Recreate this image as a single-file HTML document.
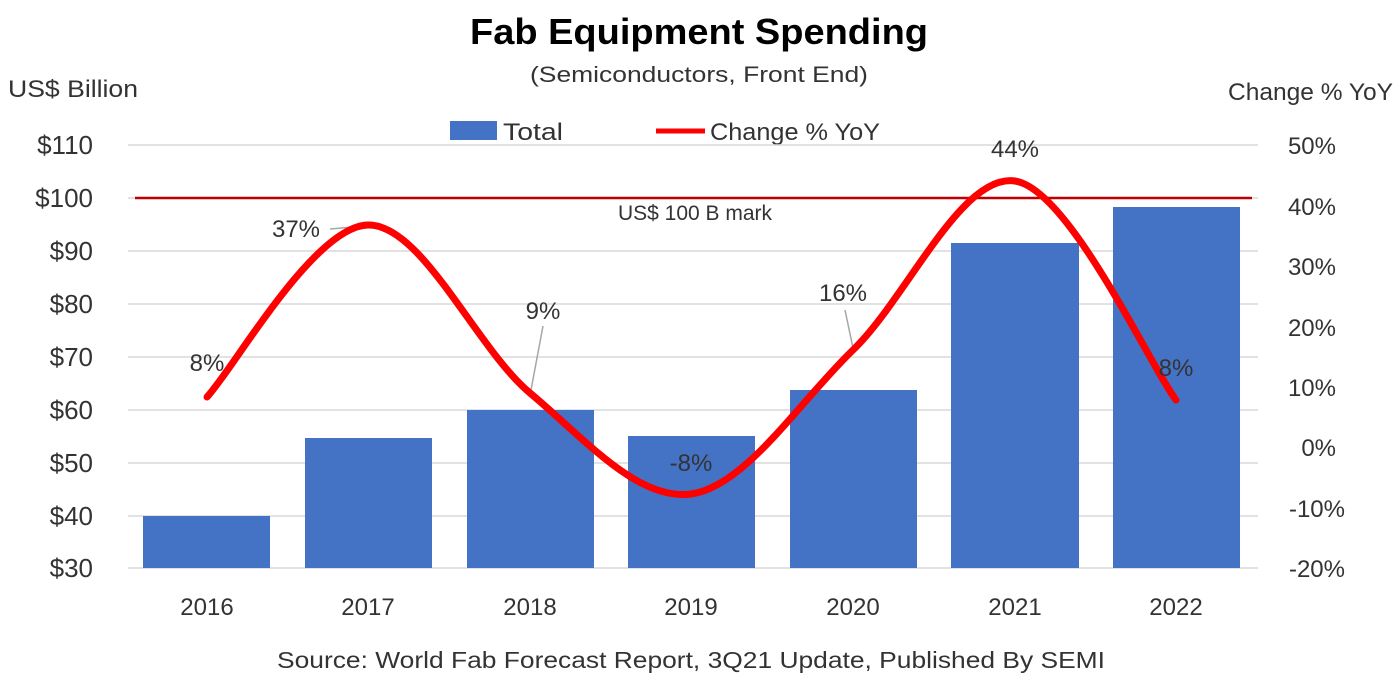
<!DOCTYPE html>
<html><head><meta charset="utf-8"><style>
body{margin:0;background:#fff;}
svg{display:block;font-family:"Liberation Sans",sans-serif;}
</style></head><body>
<svg width="1393" height="678" viewBox="0 0 1393 678">
<rect width="1393" height="678" fill="#fff"/>
<text x="470" y="44" textLength="458" lengthAdjust="spacingAndGlyphs" font-size="36" font-weight="bold" fill="#000">Fab Equipment Spending</text>
<text x="530" y="82" textLength="338" lengthAdjust="spacingAndGlyphs" font-size="22" fill="#333">(Semiconductors, Front End)</text>
<text x="8" y="97" textLength="130" lengthAdjust="spacingAndGlyphs" font-size="24" fill="#333">US$ Billion</text>
<text x="1228" y="100" textLength="165" lengthAdjust="spacingAndGlyphs" font-size="24" fill="#333">Change % YoY</text>
<rect x="450" y="121" width="47" height="19" fill="#4472c4"/>
<text x="503" y="140" textLength="60" lengthAdjust="spacingAndGlyphs" font-size="24" fill="#333">Total</text>
<line x1="656" y1="131" x2="705" y2="131" stroke="#ff0000" stroke-width="5"/>
<text x="710" y="140" textLength="170" lengthAdjust="spacingAndGlyphs" font-size="24" fill="#333">Change % YoY</text>
<g stroke="#d9d9d9" stroke-width="1.5">
<line x1="128" y1="145" x2="1258" y2="145"/><line x1="128" y1="198" x2="1258" y2="198"/>
<line x1="128" y1="251" x2="1258" y2="251"/><line x1="128" y1="304" x2="1258" y2="304"/>
<line x1="128" y1="357" x2="1258" y2="357"/><line x1="128" y1="410" x2="1258" y2="410"/>
<line x1="128" y1="463" x2="1258" y2="463"/><line x1="128" y1="516" x2="1258" y2="516"/>
<line x1="128" y1="568" x2="1258" y2="568"/>
</g>
<g font-size="26" fill="#333" text-anchor="end">
<text x="93" y="154">$110</text><text x="93" y="207">$100</text><text x="93" y="260">$90</text>
<text x="93" y="313">$80</text><text x="93" y="366">$70</text><text x="93" y="419">$60</text>
<text x="93" y="472">$50</text><text x="93" y="525">$40</text><text x="93" y="577">$30</text>
</g>
<g font-size="24" fill="#333" text-anchor="end">
<text x="1336" y="154">50%</text><text x="1336" y="215">40%</text><text x="1336" y="275">30%</text>
<text x="1336" y="336">20%</text><text x="1336" y="396">10%</text><text x="1336" y="456">0%</text>
<text x="1345" y="517">-10%</text><text x="1345" y="577">-20%</text>
</g>
<g fill="#4472c4">
<rect x="143" y="516" width="127" height="52"/>
<rect x="305" y="438" width="127" height="130"/>
<rect x="467" y="410" width="127" height="158"/>
<rect x="628" y="436" width="127" height="132"/>
<rect x="790" y="390" width="127" height="178"/>
<rect x="951" y="243" width="128" height="325"/>
<rect x="1113" y="207" width="127" height="361"/>
</g>
<line x1="135" y1="198" x2="1252" y2="198" stroke="#c00000" stroke-width="2.5"/>
<text x="695" y="220" text-anchor="middle" font-size="21" fill="#333">US$ 100 B mark</text>
<g stroke="#a6a6a6" stroke-width="1.5">
<line x1="330" y1="229" x2="364" y2="226"/>
<line x1="543" y1="326" x2="531" y2="390"/>
<line x1="845" y1="310" x2="853" y2="348"/>
</g>
<path d="M207,397 C234,368 314,226 368,225 C422,224 476,348 530,393 C584,438 637,501 691,494 C745,487 799,402 853,350 C907,298 961,173 1015,181 C1069,189 1149,364 1176,400" fill="none" stroke="#ff0000" stroke-width="7" stroke-linecap="round"/>
<g font-size="24" fill="#333" text-anchor="middle">
<text x="207" y="371">8%</text><text x="296" y="237">37%</text><text x="543" y="319">9%</text>
<text x="691" y="471">-8%</text><text x="843" y="301">16%</text><text x="1015" y="157">44%</text>
<text x="1176" y="376">8%</text>
</g>
<g font-size="24" fill="#333" text-anchor="middle">
<text x="207" y="615">2016</text><text x="368" y="615">2017</text><text x="530" y="615">2018</text>
<text x="691" y="615">2019</text><text x="853" y="615">2020</text><text x="1015" y="615">2021</text>
<text x="1176" y="615">2022</text>
</g>
<text x="277" y="668" textLength="828" lengthAdjust="spacingAndGlyphs" font-size="23" fill="#333">Source: World Fab Forecast Report, 3Q21 Update, Published By SEMI</text>
</svg>
</body></html>
